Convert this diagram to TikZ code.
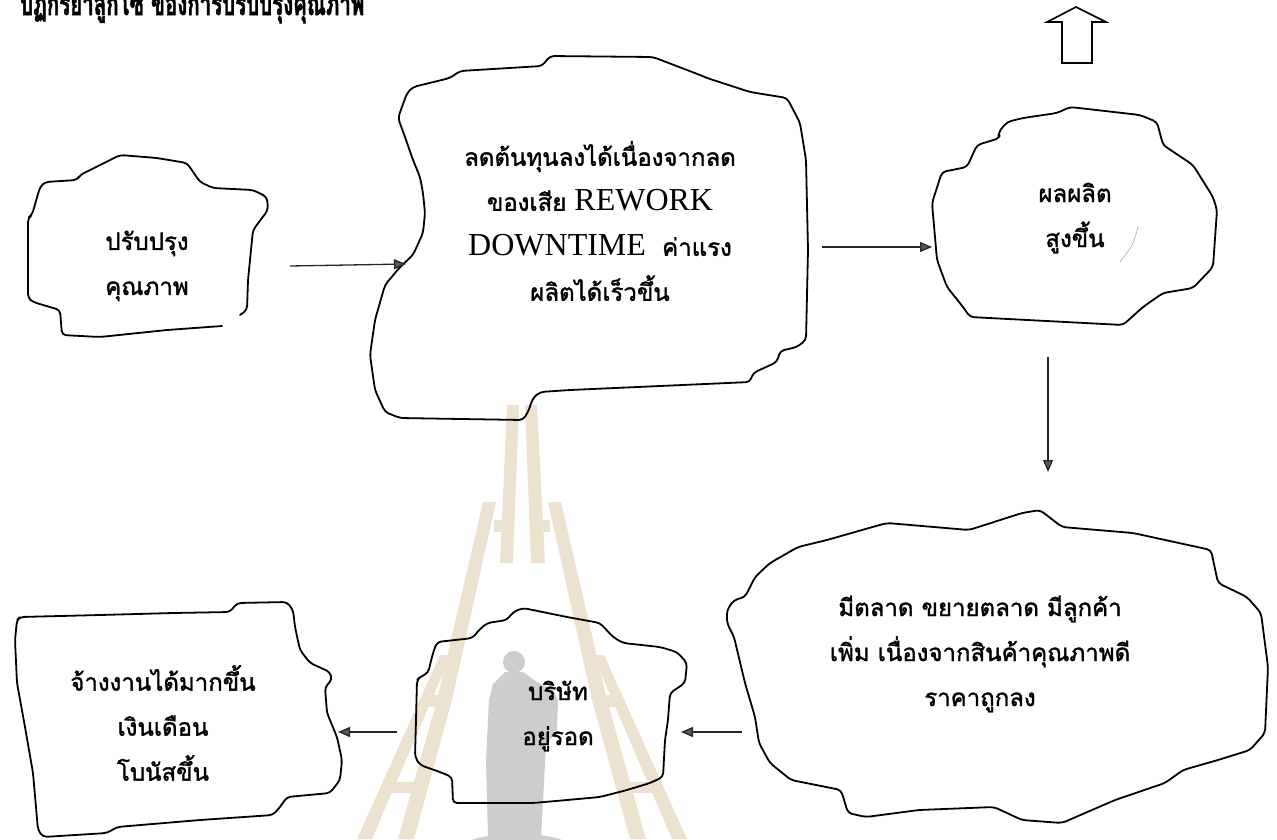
\documentclass[tikz,border=0pt]{standalone}
\usepackage{fontspec}
\newfontfamily\thai[Script=Thai,FakeBold=1.5]{Loma}
\newfontfamily\thaititle[Script=Thai,FakeBold=2]{Loma}
\newfontfamily\latserif{Liberation Serif}
\usetikzlibrary{arrows.meta}
\definecolor{wmbeige}{RGB}{236,226,207}
\definecolor{wmgray}{RGB}{205,205,205}
\newcommand\ENword[1]{{\latserif\fontsize{32}{44}\selectfont #1}}
\begin{document}
\begin{tikzpicture}[x=1pt,y=-1pt,
  blob/.style={line width=1.8pt, line join=round, line cap=round, rounded corners=4pt},
  lbl/.style={font=\thai\fontsize{24}{45}\selectfont, align=center, text=black, inner sep=0pt},
  flow/.style={line width=1.3pt, draw=black!85, -{Triangle[length=12pt,width=10pt,fill=black!65]}},
  wm/.style={fill=wmbeige, draw=none},
  hollow/.style={line width=1.6pt, line join=miter, fill=white}]
\useasboundingbox (0,0) rectangle (1277,839);
\clip (0,0) rectangle (1277,839);

% ---------- watermark ----------
\fill[wm] (507,405) -- (519,405) -- (513,563) -- (500,563) -- cycle;
\fill[wm] (525,405) -- (537,405) -- (545,563) -- (531,563) -- cycle;
\fill[wm] (483,502) -- (496,502) -- (452,700) -- (414,839) -- (398,839) -- (437,700) -- cycle;
\fill[wm] (561,502) -- (548,502) -- (592,700) -- (630,839) -- (646,839) -- (607,700) -- cycle;
\fill[wm] (494,520) rectangle (503,532);
\fill[wm] (541,520) rectangle (550,532);
\fill[wm] (440,655) -- (451,655) -- (372,839) -- (357,839) -- cycle;
\fill[wm] (604,655) -- (593,655) -- (672,839) -- (687,839) -- cycle;
\fill[wm] (425,695) rectangle (445,707);
\fill[wm] (599,695) rectangle (619,707);
\fill[wm] (387,782) rectangle (420,793);
\fill[wm] (624,782) rectangle (657,793);
% silhouette
\fill[wmgray] (514,662) circle (11);
\fill[wmgray] (505,672) -- (523,672) -- (537,682) -- (553,690) -- (558,700) -- (557,730) -- (546,745)
  -- (541,839) -- (488,839) -- (486,760) -- (489,700) -- (493,684) -- cycle;
\fill[wmgray] (517,846) ellipse (52 and 12);

% ---------- title ----------
\node[font=\thaititle\bfseries\fontsize{32}{32}\selectfont, anchor=base west, inner sep=0pt, xscale=0.64] (title) at (20,15)
  {ปฏิกริยาลูกโซ่ ของการปรับปรุงคุณภาพ};

% ---------- up arrow ----------
\draw[hollow] (1062,63) -- (1062,22) -- (1047,22) -- (1076,7) -- (1106,22) -- (1092,22) -- (1092,63) -- cycle;

% ---------- blob A ----------
\draw[blob] (240,315) -- (247,310) -- (248,280) -- (250,260) -- (253,230) -- (268,210) -- (267,197)
  -- (253,190) -- (213,188) -- (200,182) -- (187,163) -- (157,158) -- (120,155) -- (110,160)
  -- (80,175) -- (77,180) -- (45,182) -- (40,187) -- (32,215) -- (28,218) -- (28,298) -- (33,302)
  -- (60,310) -- (62,335) -- (100,337) -- (167,330) -- (222,326);
\node[lbl] (tA) at (147,266) {ปรับปรุง\\คุณภาพ};

% ---------- blob B ----------
\draw[blob] (398,118) -- (405,137) -- (413,160) -- (420,177) -- (423,193) -- (425,213) -- (423,233)
  -- (413,255) -- (400,267) -- (385,285) -- (375,320) -- (370,355) -- (375,390) -- (385,412)
  -- (400,418) -- (523,420) -- (528,412) -- (533,398) -- (540,392) -- (570,390) -- (750,382)
  -- (753,373) -- (777,362) -- (780,351) -- (797,347) -- (806,340) -- (808,250) -- (806,160)
  -- (800,123) -- (797,117) -- (787,98) -- (750,92) -- (707,78) -- (700,75) -- (653,57)
  -- (550,56) -- (542,66) -- (460,71) -- (450,78) -- (413,87) -- (407,93) -- cycle;
\node[lbl] (tB) at (600,221) {ลดต้นทุนลงได้เนื่องจากลด\\ของเสีย \ENword{REWORK}\\\ENword{DOWNTIME}\ \ ค่าแรง\\ผลิตได้เร็วขึ้น};

% ---------- blob C ----------
\draw[blob] (1000,138) -- (998,133) -- (1007,122) -- (1023,118) -- (1057,113) -- (1070,107)
  -- (1140,115) -- (1157,122) -- (1163,145) -- (1193,165) -- (1213,197) -- (1217,210)
  -- (1213,267) -- (1193,288) -- (1163,293) -- (1143,307) -- (1123,325) -- (970,317)
  -- (963,307) -- (947,287) -- (937,260) -- (932,203) -- (942,172) -- (967,167) -- (977,145) -- cycle;
\node[lbl] (tC) at (1075,218) {ผลผลิต\\สูงขึ้น};
\draw[black!35, line width=0.6pt] (1138,227) .. controls (1133,245) .. (1120,262);

% ---------- blob D ----------
\draw[blob] (727,610) -- (734,600) -- (745,597) -- (755,577) -- (770,563) -- (798,547) -- (827,540)
  -- (869,528) -- (887,523) -- (969,530) -- (1022,513) -- (1040,510) -- (1062,527) -- (1133,533)
  -- (1211,550) -- (1218,583) -- (1247,597) -- (1261,613) -- (1268,667) -- (1265,733) -- (1250,750)
  -- (1218,760) -- (1183,770) -- (1165,783) -- (1115,800) -- (1062,823) -- (1022,820) -- (994,807)
  -- (919,810) -- (866,817) -- (848,813) -- (841,790) -- (791,780) -- (770,763) -- (759,743)
  -- (755,717) -- (745,683) -- (734,637) -- (727,623) -- cycle;
\node[lbl] (tD) at (980,654) {มีตลาด ขยายตลาด มีลูกค้า\\เพิ่ม เนื่องจากสินค้าคุณภาพดี\\ราคาถูกลง};

% ---------- blob E ----------
\draw[blob] (437,642) -- (473,638) -- (477,632) -- (487,623) -- (507,620) -- (513,612) -- (523,608)
  -- (567,617) -- (600,623) -- (613,637) -- (623,643) -- (660,647) -- (677,652) -- (687,663)
  -- (685,683) -- (670,693) -- (668,720) -- (665,740) -- (663,777) -- (650,783) -- (627,790)
  -- (600,797) -- (567,800) -- (533,803) -- (453,803) -- (452,777) -- (440,772) -- (420,765)
  -- (415,757) -- (416,720) -- (417,680) -- (420,677) -- (428,673) -- (433,653) -- cycle;
\node[lbl] (tE) at (558,716) {บริษัท\\อยู่รอด};

% ---------- blob F ----------
\draw[blob] (17,620) -- (20,617) -- (100,615) -- (173,613) -- (230,612) -- (237,603) -- (287,602)
  -- (293,610) -- (295,627) -- (300,650) -- (310,663) -- (330,672) -- (332,680) -- (325,687)
  -- (327,713) -- (337,737) -- (342,760) -- (340,780) -- (330,793) -- (287,797) -- (280,807)
  -- (273,815) -- (200,820) -- (117,827) -- (107,833) -- (43,837) -- (38,830) -- (33,773)
  -- (25,727) -- (17,683) -- (15,640) -- cycle;
\node[lbl] (tF) at (163,723) {จ้างงานได้มากขึ้น\\เงินเดือน\\โบนัสขึ้น};

% ---------- connectors ----------
\coordinate (a1) at (290,266); \coordinate (b1) at (406,264);
\coordinate (b2) at (822,247); \coordinate (c1) at (932,247);
\coordinate (c2) at (1048,357); \coordinate (d1) at (1048,472);
\coordinate (d2) at (742,732); \coordinate (e1) at (681,732);
\coordinate (e2) at (397,732); \coordinate (f1) at (338,732);
\draw[flow] (a1) -- (b1);
\draw[flow] (b2) -- (c1);
\draw[flow] (c2) -- (d1);
\draw[flow] (d2) -- (e1);
\draw[flow] (e2) -- (f1);
\end{tikzpicture}
\end{document}
